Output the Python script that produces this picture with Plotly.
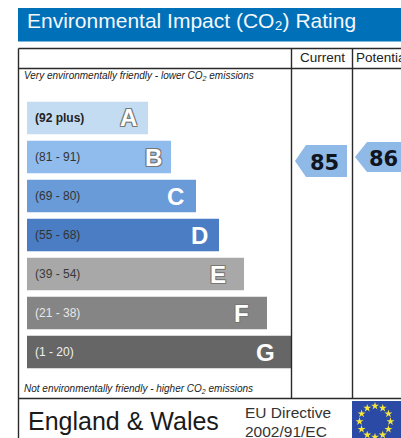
import math
import plotly.graph_objects as go

W, H = 401, 438

# Data
bands = ["A", "B", "C", "D", "E", "F", "G"]
ranges = ["<b>(92 plus)</b>", "(81 - 91)", "(69 - 80)", "(55 - 68)", "(39 - 54)", "(21 - 38)", "(1 - 20)"]
bar_lengths = [121, 144, 169, 192, 217, 240, 264]
bar_colors = ["#c4dcf2", "#8fbcec", "#6a9bd9", "#4a7dc3", "#a8a8a8", "#858585", "#666666"]
range_colors = ["#222222", "#333333", "#333333", "#333333", "#3a3a3a", "#e8e8e8", "#f0f0f0"]
letter_offsets = [20, 18, 21, 20, 26, 26, 26]
current_rating = 85
potential_rating = 86

BAND_TOP, BAND_STEP = 98.5, 39.0
BAR_LEFT = 27

fig = go.Figure()
fig.add_trace(go.Bar(
    y=bands, x=bar_lengths, orientation="h", marker=dict(color=bar_colors, line_width=0),
    hoverinfo="skip", showlegend=False, xaxis="x", yaxis="y",
))

# pixel overlay axis for frame furniture
stars_n = 12
cx, cy, r = 375, 421.5, 15.5
fig.add_trace(go.Scatter(
    x=[cx + r * math.sin(2 * math.pi * i / stars_n) for i in range(stars_n)],
    y=[cy - r * math.cos(2 * math.pi * i / stars_n) for i in range(stars_n)],
    mode="markers", marker=dict(symbol="star", size=6, color="#f5e63a", line_width=0),
    hoverinfo="skip", showlegend=False, xaxis="x2", yaxis="y2",
))

def rect(x0, y0, x1, y1, color):
    return dict(type="rect", xref="x2", yref="y2", x0=x0, y0=y0, x1=x1, y1=y1,
                fillcolor=color, line_width=0, layer="below")

def line(x0, y0, x1, y1):
    return dict(type="line", xref="x2", yref="y2", x0=x0, y0=y0, x1=x1, y1=y1,
                line=dict(color="#2a2a2a", width=1.4), layer="above")

def arrow(tip, shoulder, right, top, bottom):
    mid = (top + bottom) / 2
    return dict(type="path", xref="x2", yref="y2", fillcolor="#8fb9e6", line_width=0, layer="below",
                path=f"M{tip},{mid} L{shoulder},{top} L{right},{top} L{right},{bottom} L{shoulder},{bottom} Z")

shapes = [
    rect(18, 8, 401, 41.5, "#0070b9"),
    rect(352, 401, 401, 438, "#2b4aa6"),
    line(18.5, 48.5, 401, 48.5),
    line(18.5, 68.5, 401, 68.5),
    line(18.5, 48.5, 18.5, 438),
    line(291.5, 48.5, 291.5, 398.5),
    line(352.5, 48.5, 352.5, 398.5),
    line(18.5, 398.5, 401, 398.5),
    arrow(295, 306, 347, 145, 177),
    arrow(355, 367, 402, 142, 172),
]

def label(x, y, text, size, color="#222222", family="Liberation Sans", anchor="left", **kw):
    return dict(xref="x2", yref="y2", x=x, y=y, text=text, showarrow=False, xanchor=anchor, yanchor="middle",
                font=dict(size=size, color=color, family=family, **kw.pop("font", {})), **kw)

annotations = [
    label(24.5, 20.5, "Environmental Impact (CO₂) Rating", 21, color="#f4f8fc"),
    label(322, 57, "Current", 13.5, anchor="center"),
    label(354, 57, "Potential", 13.5),
    label(22, 76, "<i>Very environmentally friendly - lower CO<sub>2</sub> emissions</i>", 10),
    label(22, 388.5, "<i>Not environmentally friendly - higher CO<sub>2</sub> emissions</i>", 10),
    label(324, 163, str(current_rating), 21, color="#10141e", family="DejaVu Sans", anchor="center", font=dict(weight="bold")),
    label(383, 158.5, str(potential_rating), 21, color="#10141e", family="DejaVu Sans", anchor="center", font=dict(weight="bold")),
    label(26, 421, "England &amp; Wales", 25, color="#1a1a1a"),
    label(243, 412, "EU Directive", 15.5, color="#333333"),
    label(243, 431, "2002/91/EC", 15.5, color="#333333"),
]

for i, b in enumerate(bands):
    annotations.append(dict(xref="x", yref="y", x=0, y=b, xshift=6, text=ranges[i], showarrow=False,
                            xanchor="left", yanchor="middle",
                            font=dict(size=12, color=range_colors[i], family="Liberation Sans")))
    annotations.append(dict(xref="x", yref="y", x=bar_lengths[i] - letter_offsets[i], y=b, text=b, showarrow=False,
                            xanchor="center", yanchor="middle",
                            font=dict(size=24, family="Liberation Sans", weight="bold", color="#ffffff",
                                      shadow="-1px -1px 0 #777, 1px -1px 0 #777, -1px 1px 0 #777, 1px 1px 0 #777" if i in (0, 1, 4, 5) else "none")))

fig.update_layout(
    width=W, height=H, margin=dict(l=0, r=0, t=0, b=0), autosize=False,
    paper_bgcolor="white", plot_bgcolor="rgba(0,0,0,0)", bargap=0.17, showlegend=False,
    xaxis=dict(domain=[BAR_LEFT / W, 291 / W], range=[0, 264], visible=False, fixedrange=True),
    yaxis=dict(domain=[1 - (BAND_TOP + 7 * BAND_STEP) / H, 1 - BAND_TOP / H], type="category",
               categoryorder="array", categoryarray=bands, autorange="reversed", visible=False, fixedrange=True),
    xaxis2=dict(domain=[0, 1], range=[0, W], visible=False, fixedrange=True, anchor="y2"),
    yaxis2=dict(domain=[0, 1], range=[H, 0], visible=False, fixedrange=True, anchor="x2"),
    shapes=shapes, annotations=annotations,
)

fig.write_html("out.html", config={"displayModeBar": False},
               post_script="document.body.style.margin='0';document.body.style.overflow='hidden';")
